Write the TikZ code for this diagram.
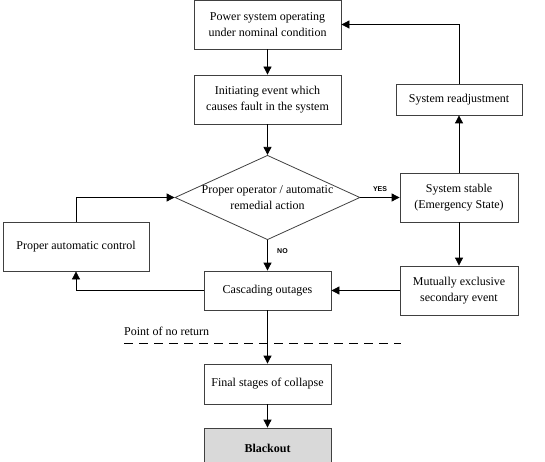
\documentclass[tikz,border=0pt]{standalone}
\usepackage{fontspec}
\setmainfont{Liberation Serif}
\newfontfamily\labelfont{Liberation Sans}
\usetikzlibrary{arrows.meta,shapes.geometric}

\tikzset{
  block/.style={draw=black!75, thick, fill=white, align=center, inner sep=2pt, font=\fontsize{12}{16}\selectfont},
  decision/.style={draw=black!75, thick, diamond, aspect=2.18, align=center, inner sep=0pt, font=\fontsize{12}{16}\selectfont},
  flow/.style={-{Triangle[length=8pt,width=8pt]}, thick},
  answer/.style={font=\labelfont\bfseries\fontsize{7}{8}\selectfont}
}

\begin{document}
\begin{tikzpicture}[x=1pt,y=-1pt]
\useasboundingbox (0,0) rectangle (545,462);

\node[block, minimum width=147pt, minimum height=49pt] (P) at (267.5,24.5) {Power system operating\\under nominal condition};
\node[block, minimum width=147pt, minimum height=49pt] (I) at (267.5,99.5) {Initiating event which\\causes fault in the system};
\node[decision, minimum width=185pt, minimum height=84pt] (D) at (267.5,197.5) {Proper operator / automatic\\remedial action};
\node[block, minimum width=118pt, minimum height=49pt] (S) at (459,197.5) {System stable\\(Emergency State)};
\node[block, minimum width=126pt, minimum height=31pt] (R) at (459,99.5) {System readjustment};
\node[block, minimum width=146pt, minimum height=49pt] (A) at (76,246.5) {Proper automatic control};
\node[block, minimum width=127pt, minimum height=39pt] (C) at (267.5,290.5) {Cascading outages};
\node[block, minimum width=118pt, minimum height=49pt] (M) at (459,290.5) {Mutually exclusive\\secondary event};
\node[block, minimum width=127pt, minimum height=40pt] (F) at (267.5,384) {Final stages of collapse};
\node[block, fill=black!15, minimum width=127pt, minimum height=40pt, font=\fontsize{12}{16}\selectfont\bfseries] (B) at (267.5,448) {Blackout};

% point of no return
\coordinate (nr1) at (124,343);
\coordinate (nr2) at (401,343);
\draw[thick, dash pattern=on 9pt off 6pt] (nr1) -- (nr2);
\node[anchor=south west, inner sep=0pt, font=\fontsize{12}{16}\selectfont] (NR) at (124,336) {Point of no return};

\draw[flow] (P) -- (I);
\draw[flow] (I) -- (D.north);
\draw[flow] (D.east) -- node[answer, above=2pt] (yes) {YES} (S);
\draw[flow] (D.south) -- node[answer, right=6pt, pos=0.35] (no) {NO} (C);
\draw[flow] (S) -- (R);
\draw[flow] (R.north) |- (P.east);
\draw[flow] (S) -- (M);
\draw[flow] (M) -- (C);
\draw[flow] (C.west) -| (A.south);
\draw[flow] (A.north) |- (D.west);
\draw[flow] (C) -- (F);
\draw[flow] (F) -- (B);

\end{tikzpicture}
\end{document}
